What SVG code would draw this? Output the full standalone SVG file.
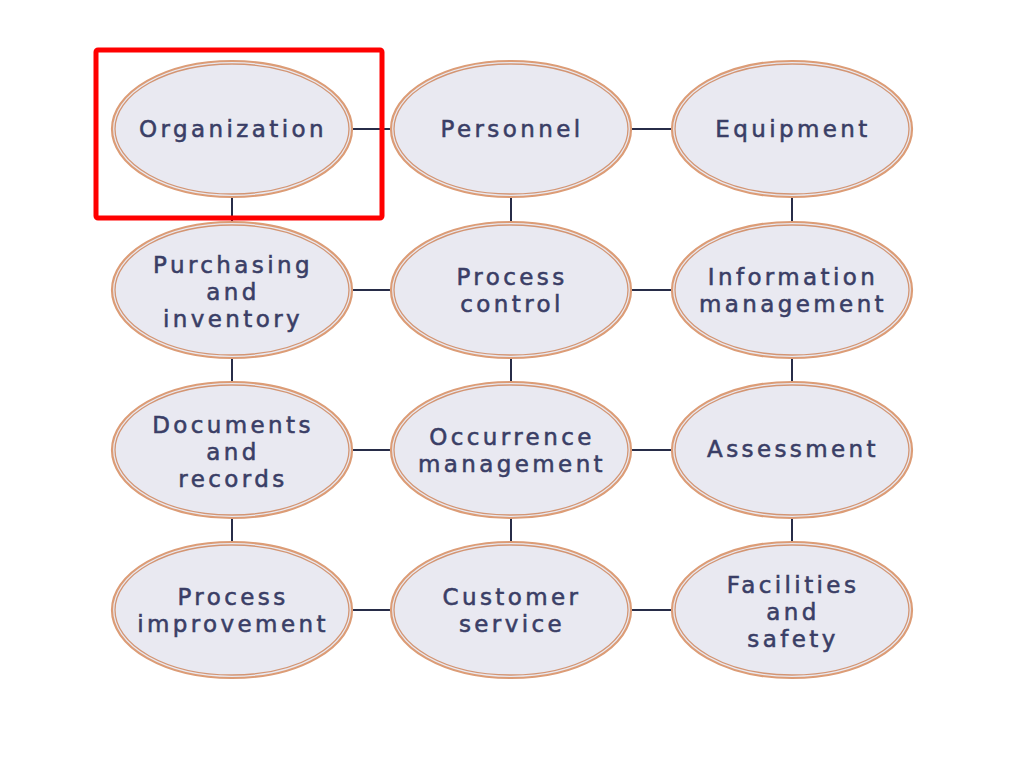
<svg xmlns="http://www.w3.org/2000/svg" width="1024" height="768" viewBox="0 0 1024 768">
<style>
.o{fill:#e9e9f1;stroke:#dc9c76;stroke-width:2.2}
.i{fill:none;stroke:#d39573;stroke-width:1.3}
.t{font-family:"DejaVu Sans","Open Sans",sans-serif;font-size:23px;fill:#3a3e66;stroke:#3a3e66;stroke-width:0.55;text-anchor:middle;letter-spacing:3.4px}
.c{stroke:#272c48;stroke-width:2;fill:none}
</style>
<rect width="1024" height="768" fill="#ffffff"/>
<g id="connectors">
<path class="c" d="M232 129H792M232 290H792M232 450H792M232 610H792M232 129V610M511 129V610M792 129V610"/>
</g>
<defs>
<g id="el"><ellipse class="o" rx="120" ry="68"/><ellipse class="i" rx="117" ry="65"/></g>
</defs>
<g id="n1"><use href="#el" x="232" y="129"/><text class="t" x="233" y="137">Organization</text></g>
<g id="n2"><use href="#el" x="511" y="129"/><text class="t" x="512" y="137">Personnel</text></g>
<g id="n3"><use href="#el" x="792" y="129"/><text class="t" x="793" y="137">Equipment</text></g>
<g id="n4"><use href="#el" x="232" y="290"/><text class="t"><tspan x="233" y="273">Purchasing</tspan><tspan x="233" y="300">and</tspan><tspan x="233" y="327">inventory</tspan></text></g>
<g id="n5"><use href="#el" x="511" y="290"/><text class="t"><tspan x="512" y="285">Process</tspan><tspan x="512" y="312">control</tspan></text></g>
<g id="n6"><use href="#el" x="792" y="290"/><text class="t"><tspan x="793" y="285">Information</tspan><tspan x="793" y="312">management</tspan></text></g>
<g id="n7"><use href="#el" x="232" y="450"/><text class="t"><tspan x="233" y="433">Documents</tspan><tspan x="233" y="460">and</tspan><tspan x="233" y="487">records</tspan></text></g>
<g id="n8"><use href="#el" x="511" y="450"/><text class="t"><tspan x="512" y="445">Occurrence</tspan><tspan x="512" y="472">management</tspan></text></g>
<g id="n9"><use href="#el" x="792" y="450"/><text class="t" x="793" y="457">Assessment</text></g>
<g id="n10"><use href="#el" x="232" y="610"/><text class="t"><tspan x="233" y="605">Process</tspan><tspan x="233" y="632">improvement</tspan></text></g>
<g id="n11"><use href="#el" x="511" y="610"/><text class="t"><tspan x="512" y="605">Customer</tspan><tspan x="512" y="632">service</tspan></text></g>
<g id="n12"><use href="#el" x="792" y="610"/><text class="t"><tspan x="793" y="593">Facilities</tspan><tspan x="793" y="620">and</tspan><tspan x="793" y="647">safety</tspan></text></g>
<rect x="96" y="50" width="286" height="168" rx="2" fill="none" stroke="#ff0000" stroke-width="5"/>
</svg>
